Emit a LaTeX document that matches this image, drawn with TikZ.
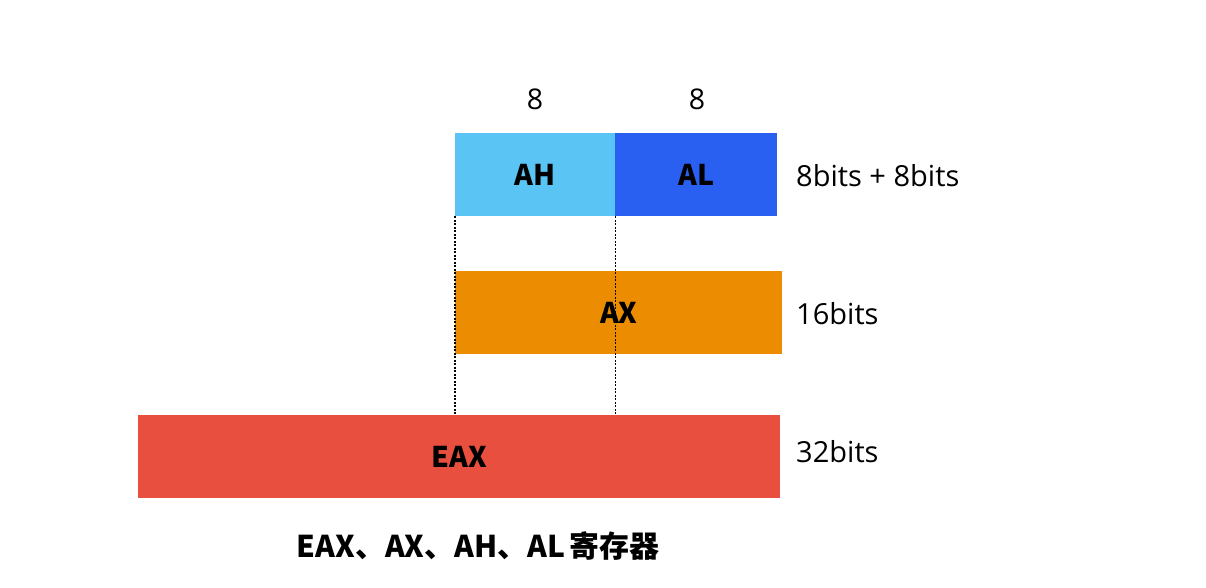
\documentclass[tikz,border=0pt]{standalone}
\usepackage{fontspec}
\setmainfont{Noto Sans CJK SC}
\newfontfamily\latinfont{Open Sans}
\definecolor{ahc}{HTML}{5AC5F5}
\definecolor{alc}{HTML}{2A60F2}
\definecolor{axc}{HTML}{EC8C00}
\definecolor{eaxc}{HTML}{E84F3E}
\begin{document}
\begin{tikzpicture}[x=1pt,y=-1pt,
  reg/.style={draw=none, minimum height=83pt, anchor=north west, inner sep=0pt, font=\fontsize{28.5}{32}\selectfont\bfseries},
  lbl/.style={anchor=west, inner sep=0pt, font=\latinfont\fontsize{29}{32}\selectfont},
  top/.style={inner sep=0pt, font=\latinfont\fontsize{28.5}{32}\selectfont},
  guide/.style={line width=1.7pt, dash pattern=on 2pt off 1.5pt}]
\useasboundingbox (0,0) rectangle (1206,588);
\node[reg, fill=ahc, minimum width=160pt] (ah) at (455,133) {AH};
\node[reg, fill=alc, minimum width=162pt] (al) at (615,133) {AL};
\node[reg, fill=axc, minimum width=327pt] (ax) at (455,271) {AX};
\node[reg, fill=eaxc, minimum width=642pt] (eax) at (138,415) {EAX};
\node[top] (n1) at (535,99) {8};
\node[top] (n2) at (697,99) {8};
\node[lbl] (l1) at (796,176) {8bits + 8bits};
\node[lbl] (l2) at (796,314) {16bits};
\node[lbl] (l3) at (796,452) {32bits};
\node[inner sep=0pt, font=\fontsize{30}{34}\selectfont\bfseries] (cap) at (478,546) {EAX、AX、AH、AL\hspace{4pt}寄存器};
\draw[guide] (ah.south west) -- (ah.south west |- eax.north);
\draw[guide] (ah.south east) -- (ah.south east |- eax.north);
\end{tikzpicture}
\end{document}
